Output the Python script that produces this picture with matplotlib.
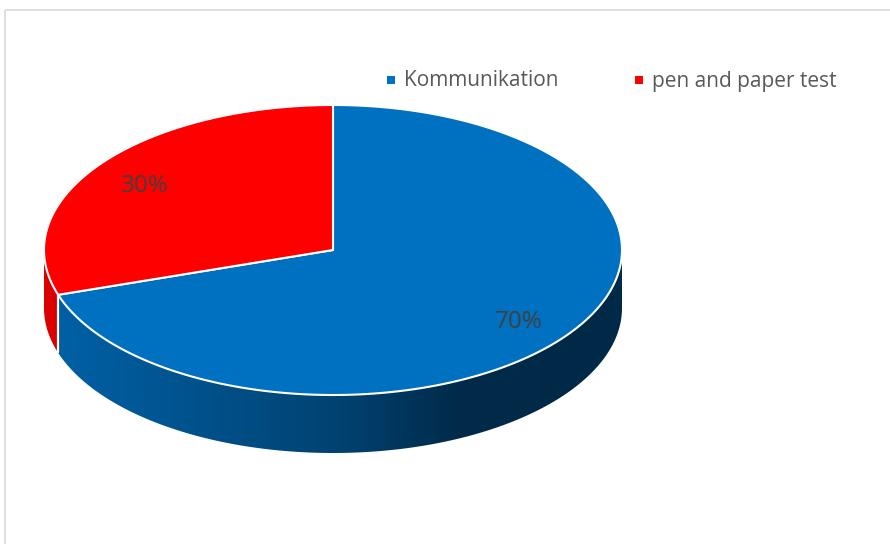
import numpy as np
import matplotlib
matplotlib.use("Agg")
import matplotlib.pyplot as plt
from matplotlib.patches import Polygon, Rectangle

# Survey split between assessment formats
categories = ["Kommunikation", "pen and paper test"]
values = [70, 30]
colors = ["#0070C0", "#FF0000"]
value_labels = ["70%", "30%"]

W, H = 890, 544
fig = plt.figure(figsize=(W / 100, H / 100), dpi=100)
ax = fig.add_axes([0, 0, 1, 1])
ax.set_xlim(0, W)
ax.set_ylim(H, 0)
ax.axis("off")

plt.rcParams["font.family"] = ["Open Sans", "DejaVu Sans"]

# chart area frame
ax.add_patch(Rectangle((4.5, 9.5), W + 20, H + 20, fill=False,
                       edgecolor="#d9d9d9", lw=1.2, zorder=0))

# pie geometry (tilted disc)
cx, cy = 333, 250
a, b = 289, 145
depth = 58


def ell(t_deg, r=1.0, dy=0.0):
    t = np.radians(t_deg)
    return np.column_stack([cx + r * a * np.cos(t), cy - r * b * np.sin(t) + dy])


def shade(x):
    u = (x - (cx - a)) / (2 * a)
    return np.interp(u, [0.0, 0.5, 0.72, 1.0], [0.87, 0.6, 0.38, 0.37])


total = float(sum(values))
start = 90.0
wedges = []
for v in values:
    sweep = 360.0 * v / total
    wedges.append((start - sweep, start))  # clockwise from 12 o'clock
    start -= sweep

# side walls (front half only: angles in [-180, 0] mod 360)
xs = np.linspace(cx - a, cx + a, 600)
for (t0, t1), col in zip(wedges, colors):
    base = np.array(matplotlib.colors.to_rgb(col))
    for k in range(-2, 3):
        lo = max(t0, -180 + 360 * k)
        hi = min(t1, 0 + 360 * k)
        if hi <= lo:
            continue
        ts = np.linspace(lo, hi, 200)
        top = ell(ts)
        bot = ell(ts[::-1], dy=depth)
        poly = Polygon(np.vstack([top, bot]), closed=True, facecolor="none",
                       edgecolor="none")
        ax.add_patch(poly)
        img = (shade(xs)[:, None] * base[None, :])[None, :, :]
        im = ax.imshow(img, extent=(cx - a, cx + a, cy + b + depth, cy - b - 5),
                       aspect="auto", interpolation="bilinear", zorder=1)
        im.set_clip_path(poly)

# white seams on the side wall at wedge boundaries facing the viewer
for (t0, t1) in wedges:
    for t in (t0, t1):
        tm = ((t + 180) % 360) - 180
        if -180 < tm < 0:
            p = ell([tm])[0]
            ax.plot([p[0], p[0]], [p[1], p[1] + depth], color="white",
                    lw=1.5, zorder=2, solid_capstyle="butt")

# top face
for (t0, t1), col in zip(wedges, colors):
    ts = np.linspace(t0, t1, 300)
    pts = np.vstack([[cx, cy], ell(ts)])
    ax.add_patch(Polygon(pts, closed=True, facecolor=col, edgecolor="white",
                         lw=1.5, joinstyle="round", zorder=3))

# data labels
for (t0, t1), lab in zip(wedges, value_labels):
    tm = (t0 + t1) / 2
    p = ell([tm], r=0.8)[0]
    ax.text(p[0] - 1, p[1] + 4, lab, ha="center", va="center", fontsize=17.5,
            color="#404040", zorder=5)

# legend
leg_x = [391, 639]
leg_y = 80
for x, col, name in zip(leg_x, colors, categories):
    ax.add_patch(Rectangle((x - 4, leg_y - 4), 8, 8, facecolor=col,
                           edgecolor="none", zorder=5))
    ax.text(x + 13, leg_y + 1, name, ha="left", va="center", fontsize=15,
            color="#595959", zorder=5)

fig.savefig("out.png", dpi=100)
